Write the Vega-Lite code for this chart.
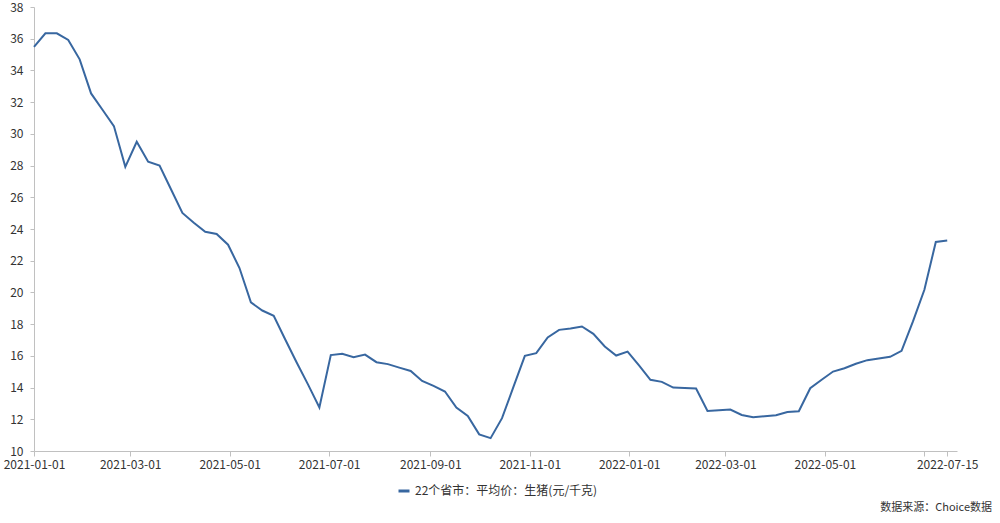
{
  "$schema": "https://vega.github.io/schema/vega-lite/v6.json",
  "width": 923,
  "height": 444,
  "autosize": {"type": "none"},
  "padding": {"left": 34, "top": 7, "right": 43, "bottom": 72},
  "background": "white",
  "config": {"view": {"stroke": null}, "font": "Noto Sans CJK SC"},
  "title": {"text": "数据来源：Choice数据", "orient": "bottom", "anchor": "end", "fontSize": 11, "fontWeight": "normal", "color": "#333333", "dx": 14, "offset": 5},
  "data": {"values": [
    {"date": "2021-01-01", "value": 35.48},
    {"date": "2021-01-08", "value": 36.34},
    {"date": "2021-01-15", "value": 36.34},
    {"date": "2021-01-22", "value": 35.92},
    {"date": "2021-01-29", "value": 34.70},
    {"date": "2021-02-05", "value": 32.55},
    {"date": "2021-02-12", "value": 31.52},
    {"date": "2021-02-19", "value": 30.49},
    {"date": "2021-02-26", "value": 27.92},
    {"date": "2021-03-05", "value": 29.50},
    {"date": "2021-03-12", "value": 28.24},
    {"date": "2021-03-19", "value": 28.00},
    {"date": "2021-03-26", "value": 26.51},
    {"date": "2021-04-02", "value": 25.01},
    {"date": "2021-04-09", "value": 24.40},
    {"date": "2021-04-16", "value": 23.82},
    {"date": "2021-04-23", "value": 23.69},
    {"date": "2021-04-30", "value": 23.01},
    {"date": "2021-05-07", "value": 21.54},
    {"date": "2021-05-14", "value": 19.37},
    {"date": "2021-05-21", "value": 18.86},
    {"date": "2021-05-28", "value": 18.53},
    {"date": "2021-06-04", "value": 17.05},
    {"date": "2021-06-11", "value": 15.60},
    {"date": "2021-06-18", "value": 14.20},
    {"date": "2021-06-25", "value": 12.74},
    {"date": "2021-07-02", "value": 16.05},
    {"date": "2021-07-09", "value": 16.13},
    {"date": "2021-07-16", "value": 15.92},
    {"date": "2021-07-23", "value": 16.08},
    {"date": "2021-07-30", "value": 15.60},
    {"date": "2021-08-06", "value": 15.48},
    {"date": "2021-08-13", "value": 15.26},
    {"date": "2021-08-20", "value": 15.05},
    {"date": "2021-08-27", "value": 14.42},
    {"date": "2021-09-03", "value": 14.11},
    {"date": "2021-09-10", "value": 13.75},
    {"date": "2021-09-17", "value": 12.74},
    {"date": "2021-09-24", "value": 12.21},
    {"date": "2021-10-01", "value": 11.05},
    {"date": "2021-10-08", "value": 10.81},
    {"date": "2021-10-15", "value": 12.07},
    {"date": "2021-10-22", "value": 14.04},
    {"date": "2021-10-29", "value": 16.00},
    {"date": "2021-11-05", "value": 16.17},
    {"date": "2021-11-12", "value": 17.16},
    {"date": "2021-11-19", "value": 17.64},
    {"date": "2021-11-26", "value": 17.72},
    {"date": "2021-12-03", "value": 17.85},
    {"date": "2021-12-10", "value": 17.39},
    {"date": "2021-12-17", "value": 16.59},
    {"date": "2021-12-24", "value": 16.02},
    {"date": "2021-12-31", "value": 16.27},
    {"date": "2022-01-07", "value": 15.40},
    {"date": "2022-01-14", "value": 14.49},
    {"date": "2022-01-21", "value": 14.36},
    {"date": "2022-01-28", "value": 14.00},
    {"date": "2022-02-04", "value": 13.97},
    {"date": "2022-02-11", "value": 13.94},
    {"date": "2022-02-18", "value": 12.53},
    {"date": "2022-02-25", "value": 12.57},
    {"date": "2022-03-04", "value": 12.61},
    {"date": "2022-03-11", "value": 12.27},
    {"date": "2022-03-18", "value": 12.13},
    {"date": "2022-03-25", "value": 12.19},
    {"date": "2022-04-01", "value": 12.25},
    {"date": "2022-04-08", "value": 12.46},
    {"date": "2022-04-15", "value": 12.51},
    {"date": "2022-04-22", "value": 13.96},
    {"date": "2022-04-29", "value": 14.49},
    {"date": "2022-05-06", "value": 15.01},
    {"date": "2022-05-13", "value": 15.22},
    {"date": "2022-05-20", "value": 15.50},
    {"date": "2022-05-27", "value": 15.73},
    {"date": "2022-06-03", "value": 15.83},
    {"date": "2022-06-10", "value": 15.94},
    {"date": "2022-06-17", "value": 16.32},
    {"date": "2022-06-24", "value": 18.17},
    {"date": "2022-07-01", "value": 20.17},
    {"date": "2022-07-08", "value": 23.18},
    {"date": "2022-07-15", "value": 23.27}
  ]},
  "mark": {"type": "line", "strokeWidth": 2, "interpolate": "linear"},
  "encoding": {
    "x": {
      "field": "date",
      "type": "temporal",
      "scale": {"type": "utc", "domain": [{"year": 2021, "month": 1, "date": 1, "utc": true}, {"year": 2022, "month": 7, "date": 21, "utc": true}], "nice": false},
      "axis": {
        "title": null,
        "grid": false,
        "domainColor": "#c0c0c0",
        "tickColor": "#c0c0c0",
        "tickSize": 5,
        "labelPadding": 3,
        "labelFontSize": 12,
        "labelColor": "#333333",
        "labelOverlap": false,
        "labelFlush": false,
        "labelBound": false,
        "values": [
          {"year": 2021, "month": 1, "date": 1, "utc": true},
          {"year": 2021, "month": 3, "date": 1, "utc": true},
          {"year": 2021, "month": 5, "date": 1, "utc": true},
          {"year": 2021, "month": 7, "date": 1, "utc": true},
          {"year": 2021, "month": 9, "date": 1, "utc": true},
          {"year": 2021, "month": 11, "date": 1, "utc": true},
          {"year": 2022, "month": 1, "date": 1, "utc": true},
          {"year": 2022, "month": 3, "date": 1, "utc": true},
          {"year": 2022, "month": 5, "date": 1, "utc": true},
          {"year": 2022, "month": 7, "date": 1, "utc": true},
          {"year": 2022, "month": 7, "date": 15, "utc": true}
        ],
        "labelExpr": "utcFormat(datum.value, '%Y-%m-%d') == '2022-07-01' ? '' : utcFormat(datum.value, '%Y-%m-%d')"
      }
    },
    "y": {
      "field": "value",
      "type": "quantitative",
      "scale": {"domain": [10, 38], "nice": false, "zero": false},
      "axis": {
        "title": null,
        "grid": false,
        "values": [10, 12, 14, 16, 18, 20, 22, 24, 26, 28, 30, 32, 34, 36, 38],
        "domainColor": "#c0c0c0",
        "tickColor": "#c0c0c0",
        "tickSize": 4,
        "labelPadding": 7,
        "labelFontSize": 12,
        "labelColor": "#333333",
        "labelOverlap": false,
        "labelFlush": false,
        "labelBound": false
      }
    },
    "color": {
      "datum": "22个省市：平均价：生猪(元/千克)",
      "scale": {"range": ["#3867a0"]},
      "legend": {
        "title": null,
        "orient": "none",
        "legendX": 363,
        "legendY": 477,
        "symbolType": "stroke",
        "symbolStrokeWidth": 3,
        "symbolSize": 121,
        "labelFontSize": 12,
        "labelLimit": 0,
        "labelColor": "#333333",
        "padding": 0
      }
    }
  }
}
